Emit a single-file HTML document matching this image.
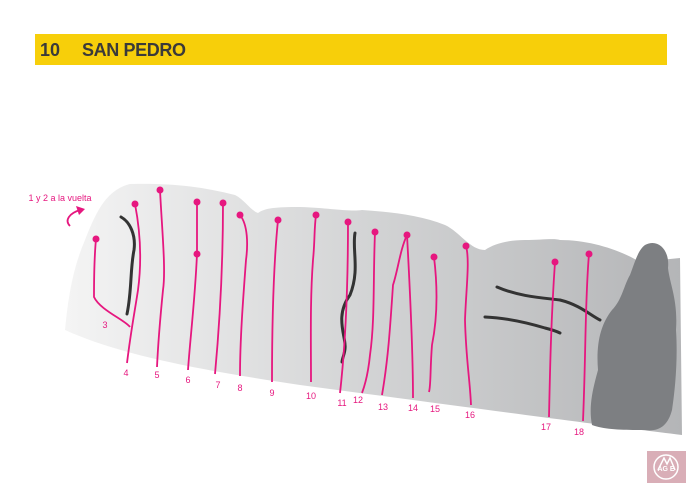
<!DOCTYPE html>
<html><head><style>body{margin:0;background:#fff;width:700px;height:495px;overflow:hidden}</style></head><body>
<svg width="700" height="495" xmlns="http://www.w3.org/2000/svg" font-family="Liberation Sans, sans-serif">
<defs><linearGradient id="g" x1="0" x2="1" y1="0" y2="0"><stop offset="0" stop-color="#f4f4f4"/><stop offset="0.5" stop-color="#d2d3d4"/><stop offset="1" stop-color="#b4b5b7"/></linearGradient></defs>
<rect x="35" y="34" width="632" height="31" fill="#f7cf0a"/>
<text x="40" y="56" font-size="18" font-weight="bold" fill="#3a3a3a">10</text>
<text x="82" y="56" font-size="18" font-weight="bold" fill="#3a3a3a" textLength="104">SAN PEDRO</text>
<path d="M65,330 C68,300 72,270 85,240 C95,215 105,190 130,184 C170,183 200,186 235,195 C245,200 250,210 258,213 C265,208 275,207 300,207 C330,208 350,212 362,210 C390,212 420,215 445,225 C460,232 470,250 485,250 C495,243 510,240 525,240 C540,240 555,238 560,240 C590,240 620,250 640,262 L680,258 L682,435 C600,425 450,405 300,385 C200,370 120,355 65,330 Z" fill="url(#g)"/>
<path d="M645,245 C658,238 670,250 668,268 C670,285 678,300 676,330 C678,360 675,390 672,410 C668,425 660,432 645,430 C625,430 605,430 592,425 C588,405 594,385 598,370 C596,345 600,325 612,310 C622,300 624,285 630,275 C635,262 638,250 645,245 Z" fill="#7d7f82"/>
<g fill="none" stroke="#333" stroke-width="3" stroke-linecap="round">
<path d="M121,217 C130,222 136,235 134,250 C130,270 132,290 127,314"/>
<path d="M355,233 C352,250 360,270 350,295 C335,315 345,335 345,345 C346,352 342,358 342,362"/>
<path d="M497,287 C520,297 545,298 560,300 C580,305 590,315 600,320"/>
<path d="M485,317 C510,318 535,325 545,328 C553,330 558,332 560,333"/>
</g>
<g fill="none" stroke="#e6177f" stroke-width="1.8">
<path d="M96,239 C94,260 94,280 94,297 C100,310 125,320 130,327"/>
<path d="M135,204 C140,230 142,260 138,290 C135,310 131,330 127,363"/>
<path d="M160,190 C162,230 166,270 163,290 C160,320 158,345 157,367"/>
<path d="M197,202 L197,254 C195,300 190,340 188,370"/>
<path d="M223,203 C223,260 220,320 215,374"/>
<path d="M240,215 C248,225 248,245 246,260 C243,300 240,340 240,376"/>
<path d="M278,220 C274,260 272,320 272,382"/>
<path d="M316,215 C314,230 315,240 313,260 C310,300 311,340 311,382"/>
<path d="M348,222 C348,280 346,340 340,393"/>
<path d="M375,232 C373,280 375,320 370,355 C368,375 365,385 362,393"/>
<path d="M407,235 C400,250 398,270 393,285 C390,330 388,360 382,395"/>
<path d="M407,235 C410,290 413,350 413,398"/>
<path d="M434,257 C438,290 437,320 432,345 C430,370 431,385 429,392"/>
<path d="M466,246 C470,260 466,290 465,320 C466,360 470,380 471,405"/>
<path d="M555,262 C551,320 550,370 549,417"/>
<path d="M589,254 C585,300 586,350 583,421"/>
<path d="M70,226 C64,220 70,213 80,210"/>
</g>
<path d="M76,206 L85,209 L79,215 Z" fill="#e6177f"/>
<g fill="#e6177f">
<circle cx="96" cy="239" r="3.5"/><circle cx="135" cy="204" r="3.5"/><circle cx="160" cy="190" r="3.5"/>
<circle cx="197" cy="202" r="3.5"/><circle cx="197" cy="254" r="3.5"/><circle cx="223" cy="203" r="3.5"/>
<circle cx="240" cy="215" r="3.5"/><circle cx="278" cy="220" r="3.5"/><circle cx="316" cy="215" r="3.5"/>
<circle cx="348" cy="222" r="3.5"/><circle cx="375" cy="232" r="3.5"/><circle cx="407" cy="235" r="3.5"/>
<circle cx="434" cy="257" r="3.5"/><circle cx="466" cy="246" r="3.5"/><circle cx="555" cy="262" r="3.5"/>
<circle cx="589" cy="254" r="3.5"/>
</g>
<g fill="#e6177f" font-size="9" text-anchor="middle">
<text x="60" y="201">1 y 2 a la vuelta</text>
<text x="105" y="328">3</text><text x="126" y="376">4</text><text x="157" y="378">5</text>
<text x="188" y="383">6</text><text x="218" y="388">7</text><text x="240" y="391">8</text>
<text x="272" y="396">9</text><text x="311" y="399">10</text><text x="342" y="406">11</text>
<text x="358" y="403">12</text><text x="383" y="410">13</text><text x="413" y="411">14</text>
<text x="435" y="412">15</text><text x="470" y="418">16</text><text x="546" y="430">17</text>
<text x="579" y="435">18</text>
</g>
<rect x="647" y="451" width="39" height="32" fill="#d9aeb7"/>
<circle cx="666" cy="467" r="12" fill="none" stroke="#fff" stroke-width="1.5"/>
<path d="M658,470 L664,458 L667,464 L670,458 L675,470" fill="none" stroke="#fff" stroke-width="1.5"/>
<text x="666" y="471" font-size="7" fill="#fff" text-anchor="middle" font-weight="bold">AG  E</text>
</svg>
</body></html>
